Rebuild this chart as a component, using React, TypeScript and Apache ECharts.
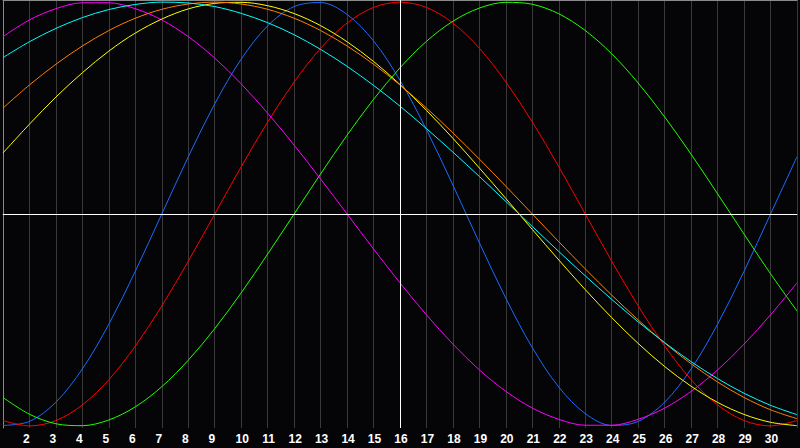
import { useEffect, useRef } from "react";
import * as echarts from "echarts";

// day numbers along the bottom (1 and 31 are the plot edges, unlabeled)
const days = [
  1, 2, 3, 4, 5, 6, 7, 8, 9, 10, 11, 12, 13, 14, 15, 16, 17, 18, 19, 20, 21,
  22, 23, 24, 25, 26, 27, 28, 29, 30, 31,
];
const TODAY = 16;

// cycle values per day, -100..100
const blue = [
  -99.8, -97.9, -88.8, -73.1, -52.0, -27.0, 0, 27.0, 52.0, 73.1, 88.8, 97.9,
  99.8, 94.2, 81.7, 63.1, 39.8, 13.6, -13.6, -39.8, -63.1, -81.7, -94.2, -99.8,
  -97.9, -88.8, -73.1, -52.0, -27.0, 0, 27.0,
];
const red = [
  -97.5, -100, -97.5, -90.1, -78.2, -62.3, -43.4, -22.3, 0, 22.3, 43.4, 62.3,
  78.2, 90.1, 97.5, 100, 97.5, 90.1, 78.2, 62.3, 43.4, 22.3, 0, -22.3, -43.4,
  -62.3, -78.2, -90.1, -97.5, -100, -97.5,
];
const green = [
  -86.6, -94.5, -99.0, -99.9, -97.2, -91.0, -81.5, -69.0, -54.1, -37.2, -18.9,
  0, 18.9, 37.2, 54.1, 69.0, 81.5, 91.0, 97.2, 99.9, 99.0, 94.5, 86.6, 75.6,
  61.8, 45.8, 28.2, 9.5, -9.5, -28.2, -45.8,
];
const magenta = [
  83.7, 91.6, 96.9, 99.7, 99.7, 96.9, 91.6, 83.7, 73.6, 61.4, 47.6, 32.5, 16.5,
  0, -16.5, -32.5, -47.6, -61.4, -73.6, -83.7, -91.6, -96.9, -99.7, -99.7,
  -96.9, -91.6, -83.7, -73.6, -61.4, -47.6, -32.5,
];
const yellow = [
  28.8, 42.4, 55.2, 66.7, 76.9, 85.4, 92.0, 96.8, 99.4, 99.9, 98.3, 94.6, 88.9,
  81.3, 72.0, 61.1, 48.9, 35.7, 21.7, 7.3, -7.3, -21.7, -35.7, -48.9, -61.1,
  -72.0, -81.3, -88.9, -94.6, -98.3, -99.9,
];
const orange = [
  50.0, 60.9, 70.7, 79.3, 86.6, 92.4, 96.6, 99.1, 100, 99.1, 96.6, 92.4, 86.6,
  79.3, 70.7, 60.9, 50.0, 38.3, 25.9, 13.1, 0, -13.1, -25.9, -38.3, -50.0,
  -60.9, -70.7, -79.3, -86.6, -92.4, -96.6,
];
const cyan = [
  73.8, 81.3, 87.6, 92.7, 96.5, 98.9, 100.0, 99.6, 97.9, 94.7, 90.3, 84.6, 77.7,
  69.7, 60.7, 50.9, 40.3, 29.2, 17.7, 5.9, -5.9, -17.7, -29.2, -40.3, -50.9,
  -60.7, -69.7, -77.7, -84.6, -90.3, -94.7,
];

const cycles = [
  { name: "23", color: "#1a6cff", values: blue },
  { name: "28", color: "#ff0000", values: red },
  { name: "33", color: "#22ff00", values: green },
  { name: "38", color: "#ff00ff", values: magenta },
  { name: "43", color: "#ffff00", values: yellow },
  { name: "48", color: "#ff8000", values: orange },
  { name: "53", color: "#00ffff", values: cyan },
];

export default function App() {
  const chartRef = useRef<HTMLDivElement>(null);

  useEffect(() => {
    if (!chartRef.current) return;
    const chart = echarts.init(chartRef.current, null, { renderer: "svg" });

    const series: any[] = cycles.map((c) => ({
      name: c.name,
      type: "line",
      smooth: 0.33,
      symbol: "none",
      silent: true,
      lineStyle: { color: c.color, width: 1 },
      data: days.map((d, i) => [d, c.values[i]]),
    }));

    // white cross: today's vertical and the zero line
    series.unshift({
      type: "line",
      data: [],
      silent: true,
      markLine: {
        silent: true,
        symbol: "none",
        label: { show: false },
        lineStyle: { color: "#ffffff", width: 1, type: "solid" },
        data: [{ xAxis: TODAY }, { yAxis: 0 }],
      },
    });

    chart.setOption({
      animation: false,
      backgroundColor: "#050508",
      grid: { left: 0, right: 0, top: 0, bottom: 20 },
      xAxis: [
        {
          type: "value",
          min: 1,
          max: 31,
          interval: 1,
          axisLine: { lineStyle: { color: "#9a9a9a", width: 1 } },
          axisTick: { show: false },
          splitLine: { show: true, lineStyle: { color: "#3a3a3a", width: 1 } },
          axisLabel: {
            color: "#ffffff",
            fontWeight: "bold",
            fontSize: 12,
            fontFamily: "Liberation Sans",
            margin: 5,
            formatter: (v: number) =>
              v <= 1 || v >= 31 ? "" : v < 10 ? `{one|${v}}` : `{two|${v}}`,
            rich: {
              one: {
                color: "#ffffff",
                fontWeight: "bold",
                fontSize: 12,
                fontFamily: "Liberation Sans",
                padding: [0, 6, 0, 0],
              },
              two: {
                color: "#ffffff",
                fontWeight: "bold",
                fontSize: 12,
                fontFamily: "Liberation Sans",
                padding: [0, 0, 0, 2],
              },
            },
          },
        },
        {
          type: "value",
          position: "top",
          min: 1,
          max: 31,
          axisLine: { show: true, lineStyle: { color: "#8a8a8a", width: 1 } },
          axisTick: { show: false },
          axisLabel: { show: false },
          splitLine: { show: false },
        },
      ],
      yAxis: {
        type: "value",
        min: -101,
        max: 101,
        axisLine: { show: true, lineStyle: { color: "#8a8a8a", width: 1 } },
        axisTick: { show: false },
        axisLabel: { show: false },
        splitLine: { show: false },
      },
      series,
    });
    return () => chart.dispose();
  }, []);

  return (
    <div
      style={{
        position: "fixed",
        left: 0,
        top: 0,
        width: 800,
        height: 448,
        background: "#050508",
      }}
    >
      <div ref={chartRef} style={{ width: 800, height: 448 }} />
    </div>
  );
}
